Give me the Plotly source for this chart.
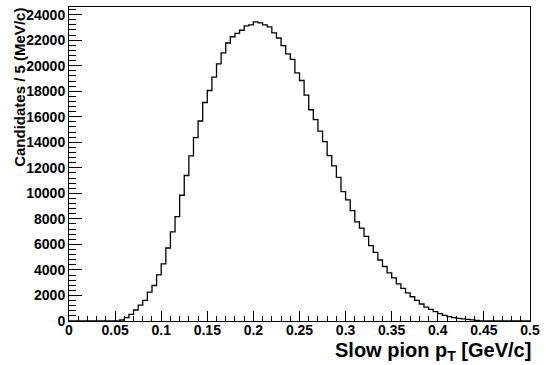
import numpy as np
import plotly.graph_objects as go

# Histogram: slow pion pT, 100 bins of 5 MeV/c from 0 to 0.5 GeV/c
bin_low = 0.0
bin_width = 0.005
counts = [
    0, 0, 0, 0, 0, 0, 0, 0, 0, 0,
    0, 80, 265, 520, 860, 1250, 1610, 2260, 2780, 3610,
    4470, 5720, 6990, 8180, 9850, 11400, 12940, 14370, 15670, 17120,
    18060, 19100, 20140, 21000, 21780, 22270, 22530, 22780, 23120, 23200,
    23440, 23360, 23200, 23050, 22580, 22170, 21570, 20920, 20500, 19440,
    18840, 17690, 16550, 15770, 14870, 14050, 12960, 12160, 11250, 10130,
    9490, 8650, 7770, 7280, 6630, 5900, 5380, 4780, 4270, 3770,
    3380, 2910, 2550, 2210, 1900, 1610, 1330, 1090, 910, 730,
    580, 440, 340, 260, 210, 160, 130, 90, 40, 0,
    0, 0, 0, 0, 0, 0, 0, 0, 0, 0,
]

x_tickvals = [0, 0.05, 0.1, 0.15, 0.2, 0.25, 0.3, 0.35, 0.4, 0.45, 0.5]
x_ticktext = ["0", "0.05", "0.1", "0.15", "0.2", "0.25", "0.3", "0.35", "0.4", "0.45", "0.5"]
y_tickvals = [0, 2000, 4000, 6000, 8000, 10000, 12000, 14000, 16000, 18000, 20000, 22000, 24000]
y_ticktext = [str(v) for v in y_tickvals]

x_title = "Slow pion p<sub>T</sub> [GeV/c]"
y_title = "Candidates / 5 (MeV/c)"

edges = bin_low + bin_width * np.arange(len(counts) + 1)
yvals = counts + [counts[-1]]

FONT = "Liberation Sans"

fig = go.Figure()
fig.add_trace(go.Scatter(
    x=edges, y=yvals, mode="lines", line_shape="hv",
    line=dict(color="black", width=1.3), hoverinfo="skip", showlegend=False,
))

W, H = 546, 365
ml, mr, mt, mb = 69, 13, 6, 44
plot_h = H - mt - mb
plot_w = W - ml - mr

axis_font = dict(family=FONT, size=14, color="black", weight="bold")

fig.update_layout(
    width=W, height=H,
    margin=dict(l=ml, r=mr, t=mt, b=mb, pad=0),
    paper_bgcolor="white", plot_bgcolor="white",
    xaxis=dict(
        range=[0, 0.5], tickvals=x_tickvals, ticktext=x_ticktext,
        ticks="inside", ticklen=10, tickwidth=1, tickcolor="black",
        minor=dict(dtick=0.01, ticks="inside", ticklen=5, tickwidth=1, tickcolor="black", showgrid=False),
        showline=True, linecolor="black", linewidth=1, mirror=True,
        showgrid=False, zeroline=False, tickfont=axis_font, ticklabelstandoff=-4,
    ),
    yaxis=dict(
        range=[0, 24600], tickvals=y_tickvals, ticktext=y_ticktext,
        ticks="inside", ticklen=13, tickwidth=1, tickcolor="black",
        minor=dict(dtick=400, ticks="inside", ticklen=7, tickwidth=1, tickcolor="black", showgrid=False),
        showline=True, linecolor="black", linewidth=1, mirror=True,
        showgrid=False, zeroline=False, tickfont=axis_font,
    ),
    annotations=[
        dict(text=x_title, xref="paper", yref="paper", x=1.0, y=-(337 - (H - mb)) / plot_h,
             xanchor="right", yanchor="top", showarrow=False, xshift=3,
             font=dict(family=FONT, size=20, color="black", weight="bold")),
        dict(text=y_title, xref="paper", yref="paper", x=(19 - ml) / plot_w, y=1.0 + 1 / plot_h,
             xanchor="center", yanchor="top", textangle=-90, showarrow=False,
             font=dict(family=FONT, size=15, color="black", weight="bold")),
    ],
)

fig.write_html("out.html")
